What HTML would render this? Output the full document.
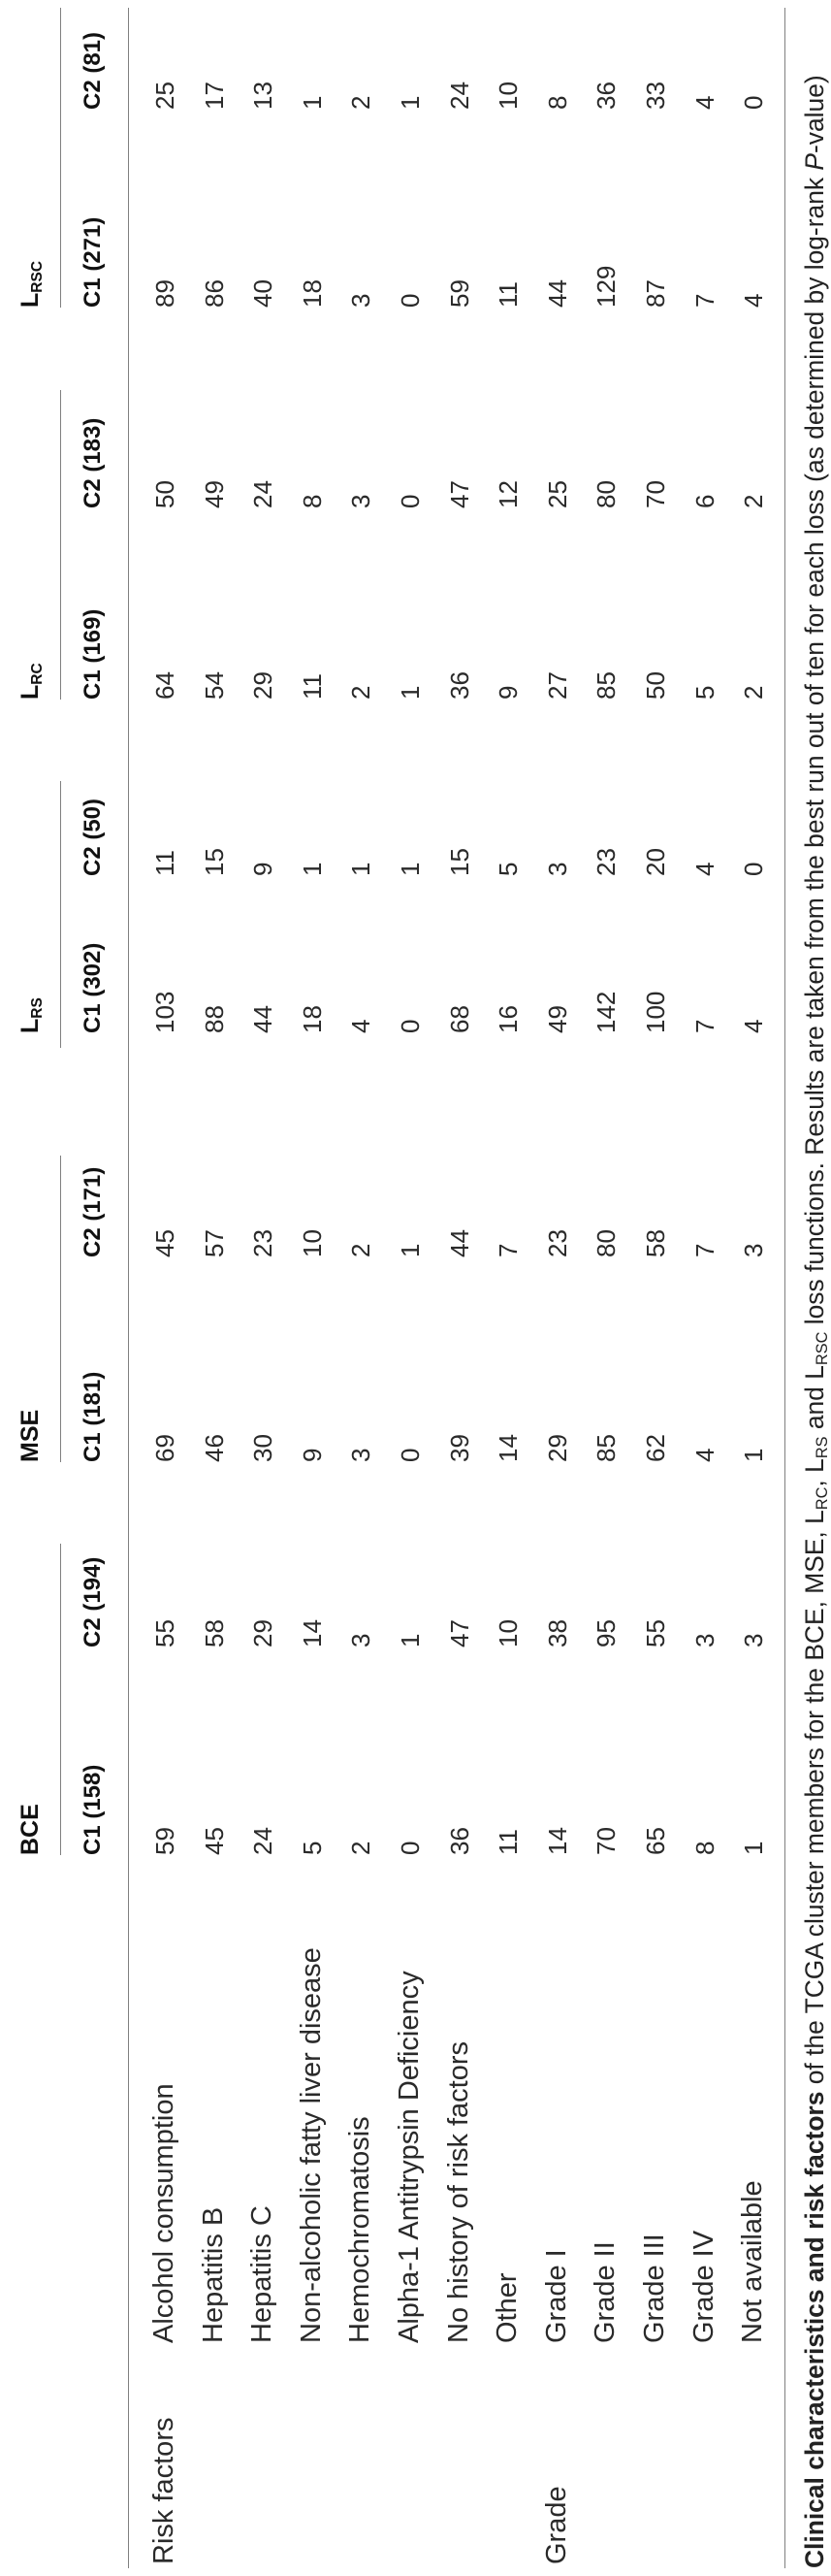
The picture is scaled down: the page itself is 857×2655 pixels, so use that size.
<!DOCTYPE html>
<html>
<head>
<meta charset="utf-8">
<style>
  html,body{margin:0;padding:0;background:#fff;}
  body{width:857px;height:2655px;position:relative;overflow:hidden;}
  #rot{position:absolute;left:0;top:2655px;width:2655px;height:857px;transform-origin:0 0;transform:rotate(-90deg);
       font-family:"Liberation Sans",sans-serif;color:#2a2a2a;}
  .t{position:absolute;white-space:nowrap;line-height:1;}
  .rule{position:absolute;height:1px;background:#808080;}
  .grp{font-weight:bold;font-size:25px;color:#111;}
  .col{font-weight:bold;font-size:24px;color:#111;}
  .cell{font-size:26px;}
  .lab{font-size:29px;}
  sub{font-size:62%;vertical-align:-0.25em;}
  #caption{font-size:26.4px;color:#222;}
</style>
</head>
<body>
<div id="rot">
  <div class="rule" style="left:743px;width:321px;top:62px"></div>
  <div class="rule" style="left:1148px;width:316px;top:62px"></div>
  <div class="rule" style="left:1575px;width:275px;top:62px"></div>
  <div class="rule" style="left:1934px;width:319px;top:62px"></div>
  <div class="rule" style="left:2338px;width:309px;top:62px"></div>
  <div class="rule" style="left:8px;width:2639px;top:132px"></div>
  <div class="rule" style="left:8px;width:2639px;top:809px"></div>

  <div class="t grp" style="left:743px;top:19px">BCE</div>
  <div class="t grp" style="left:1148px;top:19px">MSE</div>
  <div class="t grp" style="left:1590px;top:19px">L<sub>RS</sub></div>
  <div class="t grp" style="left:1934px;top:19px">L<sub>RC</sub></div>
  <div class="t grp" style="left:2338px;top:19px">L<sub>RSC</sub></div>

  <div class="t lab" style="left:12px;top:155px">Risk factors</div>
  <div class="t lab" style="left:12px;top:560px">Grade</div>

  <div class="t" id="caption" style="left:8px;top:827px"><b>Clinical characteristics and risk factors</b> of the TCGA cluster members for the BCE, MSE, L<sub>RC</sub>, L<sub>RS</sub> and L<sub>RSC</sub> loss functions. Results are taken from the best run out of ten for each loss (as determined by log-rank <i>P</i>-value)</div>
</div>
<script>
const columnLabels = ["C1 (158)","C2 (194)","C1 (181)","C2 (171)","C1 (302)","C2 (50)","C1 (169)","C2 (183)","C1 (271)","C2 (81)"];
const rowLabels = ["Alcohol consumption","Hepatitis B","Hepatitis C","Non-alcoholic fatty liver disease","Hemochromatosis","Alpha-1 Antitrypsin Deficiency","No history of risk factors","Other","Grade I","Grade II","Grade III","Grade IV","Not available"];
const bceC1 = [59,45,24,5,2,0,36,11,14,70,65,8,1];
const bceC2 = [55,58,29,14,3,1,47,10,38,95,55,3,3];
const mseC1 = [69,46,30,9,3,0,39,14,29,85,62,4,1];
const mseC2 = [45,57,23,10,2,1,44,7,23,80,58,7,3];
const lrsC1 = [103,88,44,18,4,0,68,16,49,142,100,7,4];
const lrsC2 = [11,15,9,1,1,1,15,5,3,23,20,4,0];
const lrcC1 = [64,54,29,11,2,1,36,9,27,85,50,5,2];
const lrcC2 = [50,49,24,8,3,0,47,12,25,80,70,6,2];
const lrscC1 = [89,86,40,18,3,0,59,11,44,129,87,7,4];
const lrscC2 = [25,17,13,1,2,1,24,10,8,36,33,4,0];
const series = [bceC1,bceC2,mseC1,mseC2,lrsC1,lrsC2,lrcC1,lrcC2,lrscC1,lrscC2];

const colStart = [743,957,1148,1359,1590,1752,1934,2131,2338,2542];
function rowY(i){ return 170 + i*50.6; }
const root = document.getElementById('rot');

columnLabels.forEach(function(t,j){
  const el = document.createElement('div');
  el.className = 't col';
  el.style.left = colStart[j] + 'px';
  el.style.top = '84px';
  el.textContent = t;
  
  
  root.appendChild(el);
});

rowLabels.forEach(function(t,i){
  const el = document.createElement('div');
  el.className = 't lab';
  el.style.left = '240px';
  el.style.top = (rowY(i) - 15) + 'px';
  el.textContent = t;
  
  
  root.appendChild(el);
});

series.forEach(function(vals,j){
  vals.forEach(function(v,i){
    const el = document.createElement('div');
    el.className = 't cell';
    el.style.left = colStart[j] + 'px';
    el.style.top = (rowY(i) - 13) + 'px';
    el.textContent = String(v);
    
    
    root.appendChild(el);
  });
});
</script>
</body>
</html>
